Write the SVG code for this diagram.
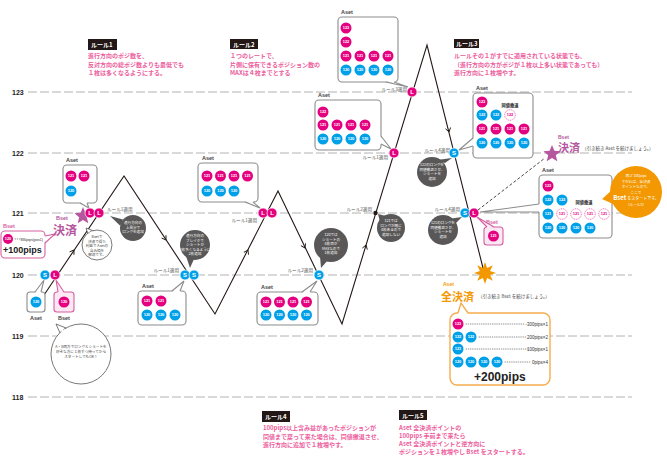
<svg xmlns="http://www.w3.org/2000/svg" width="667" height="457" viewBox="0 0 667 457">
<defs>
<style>
.pl{stroke:#a0a0a0;stroke-width:.8;stroke-dasharray:9 3;fill:none}
.lv{font:bold 7px 'Liberation Sans',sans-serif;fill:#222}
.rt{font:bold 6px 'Noto Sans CJK JP',sans-serif;fill:#ec5c9c}
.rb{fill:#231815}
.rbt{font:bold 6px 'Noto Sans CJK JP',sans-serif;fill:#fff}
.bx{fill:#fff;stroke:#8c8c8c;stroke-width:1.1}
.pbx{fill:#fce8f2;stroke:#d65fa0;stroke-width:1.1}
.pwb{fill:#fff;stroke:#d65fa0;stroke-width:1.1}
.obx{fill:#fff;stroke:#f6ad4f;stroke-width:1.4}
.tf{fill:#fff;stroke:none}
.ptf{fill:#fce8f2;stroke:none}
.ts{fill:none;stroke:#8c8c8c;stroke-width:1.1}
.pts{fill:none;stroke:#d65fa0;stroke-width:1.1}
.ots{fill:none;stroke:#f6ad4f;stroke-width:1.4}
.p{fill:#e4007f}
.b{fill:#00a0e9}
.dp{fill:#fff;stroke:#e4007f;stroke-width:.6;stroke-dasharray:1 .8}
.ct{font:bold 4px 'Liberation Sans',sans-serif;fill:#fff;text-anchor:middle}
.dct{font:bold 4px 'Liberation Sans',sans-serif;fill:#e4007f;text-anchor:middle}
.as{font:bold 5.5px 'Liberation Sans',sans-serif;fill:#444}
.bs{font:bold 5.5px 'Liberation Sans',sans-serif;fill:#d65fa0}
.mk{stroke:#fff;stroke-width:.7}
.mt{font:bold 6px 'Liberation Sans',sans-serif;fill:#fff;text-anchor:middle}
.ra{font:4.6px 'Noto Sans CJK JP',sans-serif;fill:#555}
.dk{fill:#595757}
.dt{font:3.6px 'Noto Sans CJK JP',sans-serif;fill:#fff;text-anchor:middle}
.wt{font:3.6px 'Noto Sans CJK JP',sans-serif;fill:#444;text-anchor:middle}
.zz{fill:none;stroke:#231815;stroke-width:1.1}
.ch{fill:none;stroke:#231815;stroke-width:.9}
.tt{font:bold 4.2px 'Noto Sans CJK JP',sans-serif;fill:#222;text-anchor:middle}
.sm{font:4.5px 'Noto Sans CJK JP',sans-serif;fill:#444}
.od{fill:none;stroke:#666;stroke-width:.7;stroke-dasharray:.6 1.6;stroke-linecap:round}
.ot{font:4.5px 'Liberation Sans',sans-serif;fill:#333;text-anchor:end}
</style>
<path id="chev" d="M-4,-2.6 L0,0 L-4,2.6"/>
<path id="star5" d="M0,-9 L2.35,-3.24 L8.56,-2.78 L3.8,1.24 L5.29,7.28 L0,4 L-5.29,7.28 L-3.8,1.24 L-8.56,-2.78 L-2.35,-3.24Z"/>
</defs>
<rect width="667" height="457" fill="#fff"/>

<g id="levels">
<line class="pl" x1="28" y1="92" x2="632" y2="92"/>
<line class="pl" x1="28" y1="153" x2="632" y2="153"/>
<line class="pl" x1="28" y1="213" x2="632" y2="213"/>
<line class="pl" x1="28" y1="275" x2="632" y2="275"/>
<line class="pl" x1="28" y1="336" x2="632" y2="336"/>
<line class="pl" x1="28" y1="397" x2="632" y2="397"/>
<text class="lv" x="12" y="94.5">123</text>
<text class="lv" x="12" y="155.5">122</text>
<text class="lv" x="12" y="215.5">121</text>
<text class="lv" x="12" y="277.5">120</text>
<text class="lv" x="12" y="338.5">119</text>
<text class="lv" x="12" y="399.5">118</text>
</g>

<g id="rule1">
<rect class="rb" x="88" y="39" width="29" height="11"/>
<text class="rbt" x="91" y="47">ルール1</text>
<text class="rt" x="88" y="58">進行方向のポジ数を、</text>
<text class="rt" x="88" y="66.5">反対方向の総ポジ数よりも最低でも</text>
<text class="rt" x="88" y="75">１枚は多くなるようにする。</text>
</g>
<g id="rule2">
<rect class="rb" x="230" y="39" width="28" height="10"/>
<text class="rbt" x="233" y="46.5">ルール2</text>
<text class="rt" x="230" y="58">１つのレートで、</text>
<text class="rt" x="230" y="66.5">片側に保有できるポジション数の</text>
<text class="rt" x="230" y="75">MAXは４枚までとする</text>
</g>
<g id="rule3">
<rect class="rb" x="454" y="39" width="25" height="9"/>
<text class="rbt" x="456" y="46">ルール3</text>
<text class="rt" x="454" y="58">ルールその１がすでに適用されている状態でも、</text>
<text class="rt" x="454" y="66.5">（進行方向の方がポジが１枚以上多い状態であっても）</text>
<text class="rt" x="454" y="75">進行方向に１枚増やす。</text>
</g>
<g id="rule4">
<rect class="rb" x="262" y="411" width="28" height="11"/>
<text class="rbt" x="265" y="418.5">ルール4</text>
<text class="rt" x="263" y="430">100pips以上含み益があったポジションが</text>
<text class="rt" x="263" y="438.5">同値まで戻って来た場合は、同値撤退させ、</text>
<text class="rt" x="263" y="447">進行方向に追加で１枚増やす。</text>
</g>
<g id="rule5">
<rect class="rb" x="399" y="410" width="28" height="10"/>
<text class="rbt" x="402" y="417.5">ルール5</text>
<text class="rt" x="399" y="430">Aset 全決済ポイントの</text>
<text class="rt" x="399" y="438">100pips 手前まで来たら</text>
<text class="rt" x="399" y="446">Aset 全決済ポイントと逆方向に</text>
<text class="rt" x="399" y="454">ポジションを１枚増やし Bset をスタートする。</text>
</g>

<g id="connectors">
<polyline class="zz" points="42,298 124,176 215,314 278,191 342,324 427,45 484,272"/>
<use href="#chev" class="ch" transform="translate(74,250) rotate(-56)"/>
<use href="#chev" class="ch" transform="translate(166,240) rotate(56.6)"/>
<use href="#chev" class="ch" transform="translate(248,250) rotate(-63)"/>
<use href="#chev" class="ch" transform="translate(305,248) rotate(64.3)"/>
<use href="#chev" class="ch" transform="translate(366,245) rotate(-73)"/>
<use href="#chev" class="ch" transform="translate(449,132) rotate(76)"/>
<line x1="478" y1="210" x2="545" y2="158" stroke="#333" stroke-width=".9" stroke-dasharray="3 2"/>
</g>

<g id="rule-applied">
<text class="ra" x="107" y="211">ルール1適用</text>
<text class="ra" x="179" y="272" text-anchor="end">ルール1適用</text>
<text class="ra" x="257" y="222" text-anchor="end">ルール1適用</text>
<text class="ra" x="313" y="272" text-anchor="end">ルール2適用</text>
<text class="ra" x="372" y="211" text-anchor="end">ルール2適用</text>
<text class="ra" x="388" y="159" text-anchor="end">ルール1適用</text>
<text class="ra" x="407" y="91" text-anchor="end">ルール3適用</text>
<text class="ra" x="450" y="152" text-anchor="end">ルール4適用</text>
<text class="ra" x="460" y="211" text-anchor="end">ルール4適用</text>
</g>

<g id="box-start-aset">
<rect class="bx" x="27" y="292" width="18" height="20" rx="3"/>
<polygon class="tf" points="35,293 41,293 44,280"/>
<polyline class="ts" points="35,292 44,280 41,292"/>
<circle class="b" cx="36" cy="302" r="5.5"/><text class="ct" x="36" y="303.4">120</text>
<text class="as" x="30" y="320">Aset</text>
</g>
<g id="box-start-bset">
<rect class="pbx" x="54" y="292" width="20" height="20" rx="3"/>
<polygon class="ptf" points="58,293 64,293 56,280"/>
<polyline class="pts" points="58,292 56,280 64,292"/>
<circle class="p" cx="64" cy="302" r="5.5"/><text class="ct" x="64" y="303.4">120</text>
<text class="as" x="58" y="320">Bset</text>
</g>

<g id="box-bset-100">
<text class="bs" x="3" y="228">Bset</text>
<rect class="pwb" x="1" y="231" width="44" height="27" rx="4"/>
<polygon class="tf" points="44,236 44,243 55,234"/>
<polyline class="pts" points="45,236 55,234 45,243"/>
<circle class="p" cx="8" cy="239" r="5"/><text class="ct" x="8" y="240.4">120</text>
<line class="od" x1="15" y1="239" x2="24" y2="239"/>
<text x="43" y="240.5" font-family="Liberation Sans" font-size="3.6" fill="#333" text-anchor="end">100pips(pos1)</text>
<text x="3" y="253" font-family="Liberation Sans" font-weight="bold" font-size="9" fill="#222">+100pips</text>
</g>

<g id="bset-kessai-left">
<use href="#star5" fill="#b5579e" transform="translate(83,216)"/>
<text x="56" y="220" font-family="Liberation Sans" font-weight="bold" font-size="5.5" fill="#b5579e">Bset</text>
<text x="53" y="235" font-family="'Noto Sans CJK JP',sans-serif" font-weight="bold" font-size="12" fill="#b5579e">決済</text>
</g>

<g id="box-a">
<text class="as" x="66" y="162">Aset</text>
<rect class="bx" x="63" y="165" width="34" height="38" rx="4"/>
<polygon class="tf" points="80,202 87,202 89,208"/>
<polyline class="ts" points="80,203 89,208 87,203"/>
<circle class="p" cx="71" cy="176" r="5.5"/><text class="ct" x="71" y="177.4">121</text>
<circle class="p" cx="84" cy="176" r="5.5"/><text class="ct" x="84" y="177.4">121</text>
<circle class="b" cx="71" cy="191" r="5.5"/><text class="ct" x="71" y="192.4">120</text>
</g>

<g id="box-b">
<text class="as" x="202" y="160">Aset</text>
<rect class="bx" x="198" y="163" width="60" height="39" rx="4"/>
<polygon class="tf" points="245,201 253,201 260,208"/>
<polyline class="ts" points="245,202 260,208 253,202"/>
<circle class="p" cx="207" cy="176" r="5.5"/><text class="ct" x="207" y="177.4">121</text>
<circle class="p" cx="220.5" cy="176" r="5.5"/><text class="ct" x="220.5" y="177.4">121</text>
<circle class="p" cx="234" cy="176" r="5.5"/><text class="ct" x="234" y="177.4">121</text>
<circle class="p" cx="247.5" cy="176" r="5.5"/><text class="ct" x="247.5" y="177.4">121</text>
<circle class="b" cx="207" cy="191" r="5.5"/><text class="ct" x="207" y="192.4">120</text>
<circle class="b" cx="220.5" cy="191" r="5.5"/><text class="ct" x="220.5" y="192.4">120</text>
<circle class="b" cx="234" cy="191" r="5.5"/><text class="ct" x="234" y="192.4">120</text>
</g>

<g id="box-c">
<text class="as" x="142" y="288">Aset</text>
<rect class="bx" x="138" y="291" width="48" height="34" rx="4"/>
<polygon class="tf" points="172,292 180,292 184,281"/>
<polyline class="ts" points="172,291 184,281 180,291"/>
<circle class="p" cx="147" cy="301" r="5.5"/><text class="ct" x="147" y="302.4">121</text>
<circle class="p" cx="161" cy="301" r="5.5"/><text class="ct" x="161" y="302.4">121</text>
<circle class="b" cx="147" cy="315" r="5.5"/><text class="ct" x="147" y="316.4">120</text>
<circle class="b" cx="161" cy="315" r="5.5"/><text class="ct" x="161" y="316.4">120</text>
<circle class="b" cx="175" cy="315" r="5.5"/><text class="ct" x="175" y="316.4">120</text>
</g>

<g id="box-d">
<text class="as" x="261" y="289">Aset</text>
<rect class="bx" x="257" y="292" width="61" height="33" rx="4"/>
<polygon class="tf" points="302,293 310,293 317,281"/>
<polyline class="ts" points="302,292 317,281 310,292"/>
<circle class="p" cx="266" cy="302" r="5.5"/><text class="ct" x="266" y="303.4">121</text>
<circle class="p" cx="279.5" cy="302" r="5.5"/><text class="ct" x="279.5" y="303.4">121</text>
<circle class="p" cx="293" cy="302" r="5.5"/><text class="ct" x="293" y="303.4">121</text>
<circle class="p" cx="306.5" cy="302" r="5.5"/><text class="ct" x="306.5" y="303.4">121</text>
<circle class="b" cx="266" cy="315" r="5.5"/><text class="ct" x="266" y="316.4">120</text>
<circle class="b" cx="279.5" cy="315" r="5.5"/><text class="ct" x="279.5" y="316.4">120</text>
<circle class="b" cx="293" cy="315" r="5.5"/><text class="ct" x="293" y="316.4">120</text>
<circle class="b" cx="306.5" cy="315" r="5.5"/><text class="ct" x="306.5" y="316.4">120</text>
</g>

<g id="box-e">
<text class="as" x="318" y="97">Aset</text>
<rect class="bx" x="315" y="100" width="66" height="50" rx="4"/>
<polygon class="tf" points="380,136 380,144 391,149"/>
<polyline class="ts" points="381,136 391,149 381,144"/>
<circle class="p" cx="323" cy="112" r="5.5"/><text class="ct" x="323" y="113.4">122</text>
<circle class="p" cx="323" cy="125" r="5.5"/><text class="ct" x="323" y="126.4">121</text>
<circle class="p" cx="337" cy="125" r="5.5"/><text class="ct" x="337" y="126.4">121</text>
<circle class="p" cx="351" cy="125" r="5.5"/><text class="ct" x="351" y="126.4">121</text>
<circle class="p" cx="365" cy="125" r="5.5"/><text class="ct" x="365" y="126.4">121</text>
<circle class="b" cx="323" cy="139" r="5.5"/><text class="ct" x="323" y="140.4">120</text>
<circle class="b" cx="337" cy="139" r="5.5"/><text class="ct" x="337" y="140.4">120</text>
<circle class="b" cx="351" cy="139" r="5.5"/><text class="ct" x="351" y="140.4">120</text>
<circle class="b" cx="365" cy="139" r="5.5"/><text class="ct" x="365" y="140.4">120</text>
</g>

<g id="box-f">
<text class="as" x="341" y="14">Aset</text>
<rect class="bx" x="338" y="17" width="60" height="65" rx="4"/>
<polygon class="tf" points="386,81 394,81 408,87"/>
<polyline class="ts" points="386,82 408,87 394,82"/>
<circle class="p" cx="346" cy="28" r="5.5"/><text class="ct" x="346" y="29.4">123</text>
<circle class="p" cx="346" cy="42" r="5.5"/><text class="ct" x="346" y="43.4">122</text>
<circle class="p" cx="346" cy="56" r="5.5"/><text class="ct" x="346" y="57.4">121</text>
<circle class="p" cx="360" cy="56" r="5.5"/><text class="ct" x="360" y="57.4">121</text>
<circle class="p" cx="374" cy="56" r="5.5"/><text class="ct" x="374" y="57.4">121</text>
<circle class="p" cx="388" cy="56" r="5.5"/><text class="ct" x="388" y="57.4">121</text>
<circle class="b" cx="346" cy="70" r="5.5"/><text class="ct" x="346" y="71.4">120</text>
<circle class="b" cx="360" cy="70" r="5.5"/><text class="ct" x="360" y="71.4">120</text>
<circle class="b" cx="374" cy="70" r="5.5"/><text class="ct" x="374" y="71.4">120</text>
<circle class="b" cx="388" cy="70" r="5.5"/><text class="ct" x="388" y="71.4">120</text>
</g>

<g id="box-g">
<text class="as" x="476" y="90">Aset</text>
<rect class="bx" x="473" y="93" width="60" height="65" rx="4"/>
<polygon class="tf" points="474,138 474,146 459,150"/>
<polyline class="ts" points="473,138 459,150 473,146"/>
<circle class="p" cx="482" cy="102" r="5.5"/><text class="ct" x="482" y="103.4">123</text>
<text class="tt" x="510" y="107">同値撤退</text>
<circle class="b" cx="482" cy="115" r="5.5"/><text class="ct" x="482" y="116.4">122</text>
<circle class="b" cx="496" cy="115" r="5.5"/><text class="ct" x="496" y="116.4">122</text>
<circle class="dp" cx="510" cy="115" r="5.3"/><text class="dct" x="510" y="116.4">122</text>
<circle class="p" cx="482" cy="129" r="5.5"/><text class="ct" x="482" y="130.4">121</text>
<circle class="p" cx="496" cy="129" r="5.5"/><text class="ct" x="496" y="130.4">121</text>
<circle class="p" cx="510" cy="129" r="5.5"/><text class="ct" x="510" y="130.4">121</text>
<circle class="p" cx="524" cy="129" r="5.5"/><text class="ct" x="524" y="130.4">121</text>
<circle class="b" cx="482" cy="143" r="5.5"/><text class="ct" x="482" y="144.4">120</text>
<circle class="b" cx="496" cy="143" r="5.5"/><text class="ct" x="496" y="144.4">120</text>
<circle class="b" cx="510" cy="143" r="5.5"/><text class="ct" x="510" y="144.4">120</text>
<circle class="b" cx="524" cy="143" r="5.5"/><text class="ct" x="524" y="144.4">120</text>
</g>

<g id="box-h">
<text class="as" x="542" y="172">Aset</text>
<rect class="bx" x="539" y="175" width="73" height="63" rx="4"/>
<polygon class="tf" points="540,204 540,212 480,212"/>
<polyline class="ts" points="539,204 480,212 539,212"/>
<circle class="p" cx="548" cy="186" r="5.5"/><text class="ct" x="548" y="187.4">123</text>
<circle class="b" cx="548" cy="200" r="5.5"/><text class="ct" x="548" y="201.4">122</text>
<circle class="b" cx="562" cy="200" r="5.5"/><text class="ct" x="562" y="201.4">122</text>
<text class="tt" x="584" y="204">同値撤退</text>
<circle class="b" cx="548" cy="214" r="5.5"/><text class="ct" x="548" y="215.4">121</text>
<circle class="dp" cx="562" cy="214" r="5.3"/><text class="dct" x="562" y="215.4">121</text>
<circle class="dp" cx="576" cy="214" r="5.3"/><text class="dct" x="576" y="215.4">121</text>
<circle class="dp" cx="590" cy="214" r="5.3"/><text class="dct" x="590" y="215.4">121</text>
<circle class="dp" cx="604" cy="214" r="5.3"/><text class="dct" x="604" y="215.4">121</text>
<circle class="b" cx="548" cy="228" r="5.5"/><text class="ct" x="548" y="229.4">120</text>
<circle class="b" cx="562" cy="228" r="5.5"/><text class="ct" x="562" y="229.4">120</text>
<circle class="b" cx="576" cy="228" r="5.5"/><text class="ct" x="576" y="229.4">120</text>
<circle class="b" cx="590" cy="228" r="5.5"/><text class="ct" x="590" y="229.4">120</text>
</g>

<g id="box-bset-right">
<text class="bs" x="486" y="224">Bset</text>
<rect class="pbx" x="484" y="227" width="19" height="18" rx="3"/>
<polygon class="ptf" points="487,228 494,228 477,217"/>
<polyline class="pts" points="487,227 477,217 494,227"/>
<circle class="p" cx="493.5" cy="236" r="5.5"/><text class="ct" x="493.5" y="237.4">121</text>
</g>

<g id="bset-kessai-right">
<use href="#star5" fill="#b5579e" transform="translate(552,154)"/>
<text x="558" y="139" font-family="Liberation Sans" font-weight="bold" font-size="5" fill="#b5579e">Bset</text>
<text x="558" y="152" font-family="'Noto Sans CJK JP',sans-serif" font-weight="bold" font-size="11" fill="#b5579e">決済</text>
<text class="sm" x="582" y="150">（引き続き Aset を続けましょう。）</text>
</g>

<g id="aset-zenkessai">
<path fill="#f39800" transform="translate(485,273)" d="M0,-11 L2.1,-5.08 L7.78,-7.78 L5.08,-2.1 L11,0 L5.08,2.1 L7.78,7.78 L2.1,5.08 L0,11 L-2.1,5.08 L-7.78,7.78 L-5.08,2.1 L-11,0 L-5.08,-2.1 L-7.78,-7.78 L-2.1,-5.08Z"/>
<text x="443" y="286" font-family="Liberation Sans" font-weight="bold" font-size="5" fill="#f39800">Aset</text>
<text x="441" y="301" font-family="'Noto Sans CJK JP',sans-serif" font-weight="bold" font-size="11" fill="#f39800">全決済</text>
<text class="sm" x="478" y="298">（引き続き Bset を続けましょう。）</text>
</g>

<g id="box-total">
<rect class="obx" x="450" y="313" width="100" height="72" rx="7"/>
<polygon class="tf" points="458,314 468,314 461,303"/>
<polyline class="ots" points="458,313 461,303 468,313"/>
<circle class="p" cx="458" cy="324" r="5.5"/><text class="ct" x="458" y="325.4">123</text>
<line class="od" x1="466" y1="324" x2="524" y2="324"/>
<text class="ot" x="548" y="325.5">-300pips×1</text>
<circle class="b" cx="458" cy="337" r="5.5"/><text class="ct" x="458" y="338.4">122</text>
<circle class="b" cx="471" cy="337" r="5.5"/><text class="ct" x="471" y="338.4">122</text>
<line class="od" x1="479" y1="337" x2="526" y2="337"/>
<text class="ot" x="548" y="338.5">200pips×2</text>
<circle class="b" cx="458" cy="349" r="5.5"/><text class="ct" x="458" y="350.4">121</text>
<line class="od" x1="466" y1="349" x2="528" y2="349"/>
<text class="ot" x="548" y="350.5">100pips×1</text>
<circle class="b" cx="458" cy="362" r="5.5"/><text class="ct" x="458" y="363.4">120</text>
<circle class="b" cx="471" cy="362" r="5.5"/><text class="ct" x="471" y="363.4">120</text>
<circle class="b" cx="484" cy="362" r="5.5"/><text class="ct" x="484" y="363.4">120</text>
<circle class="b" cx="497" cy="362" r="5.5"/><text class="ct" x="497" y="363.4">120</text>
<line class="od" x1="505" y1="362" x2="531" y2="362"/>
<text class="ot" x="548" y="363.5">0pips×4</text>
<text x="474" y="381" font-family="Liberation Sans" font-weight="bold" font-size="12" fill="#222">+200pips</text>
</g>

<g id="note1">
<polygon class="dk" points="120.2,225.7 123,219.6 110,216"/>
<circle class="dk" cx="133" cy="228" r="13"/>
<text class="dt" x="133" y="224">進行方向の</text>
<text class="dt" x="133" y="228.5">上昇分で</text>
<text class="dt" x="133" y="233">ロングを追加</text>
</g>
<g id="note-white">
<polygon points="88,234 94,231 86,228" fill="#fff" stroke="#555" stroke-width=".8"/>
<circle cx="97" cy="245" r="15" fill="#fff" stroke="#555" stroke-width=".8"/>
<polygon points="88.5,234.5 93.5,231.5 90,232" fill="#fff"/>
<text class="wt" x="97" y="238">Bsetで</text>
<text class="wt" x="97" y="242.5">決済で得た</text>
<text class="wt" x="97" y="247">利益で Asetの</text>
<text class="wt" x="97" y="251.5">含み損を</text>
<text class="wt" x="97" y="256">解消です。</text>
</g>
<g id="note2">
<polygon class="dk" points="186,256 194,259 190,268"/>
<circle class="dk" cx="195" cy="245" r="15"/>
<text class="dt" x="195" y="237">進行方向の</text>
<text class="dt" x="195" y="241.5">ブレイクで</text>
<text class="dt" x="195" y="246">ショートが</text>
<text class="dt" x="195" y="250.5">1枚多くなるように</text>
<text class="dt" x="195" y="255">2枚追加</text>
</g>
<g id="note3">
<polygon class="dk" points="320,256 328,260 321,268"/>
<circle class="dk" cx="331" cy="245" r="17"/>
<text class="dt" x="331" y="236">120では</text>
<text class="dt" x="331" y="240.5">ショートの</text>
<text class="dt" x="331" y="245">4枚目が</text>
<text class="dt" x="331" y="249.5">MAXなので</text>
<text class="dt" x="331" y="254">1枚追加</text>
</g>
<g id="note4">
<polygon class="dk" points="380,222 386,216 378,214"/>
<circle class="dk" cx="391" cy="228" r="14"/>
<text class="dt" x="391" y="222">121では</text>
<text class="dt" x="391" y="226.5">ロングが既に</text>
<text class="dt" x="391" y="231">4枚あるので</text>
<text class="dt" x="391" y="235.5">追加しない</text>
</g>
<g id="note5">
<polygon class="dk" points="448,219 455,224 462,217"/>
<circle class="dk" cx="443" cy="230" r="15"/>
<text class="dt" x="443" y="224">121のロングを</text>
<text class="dt" x="443" y="228.5">同値撤退させ、</text>
<text class="dt" x="443" y="233">ショートを</text>
<text class="dt" x="443" y="237.5">追加</text>
</g>
<g id="note6">
<polygon class="dk" points="437,160 445,163 452,158"/>
<circle class="dk" cx="432" cy="172" r="15"/>
<text class="dt" x="432" y="166">122のロングを</text>
<text class="dt" x="432" y="170.5">同値撤退させ、</text>
<text class="dt" x="432" y="175">ショートを</text>
<text class="dt" x="432" y="179.5">追加</text>
</g>
<g id="note-orange">
<polygon fill="#f39800" points="612,190 613,204 602,199"/>
<circle fill="#f39800" cx="636" cy="192" r="26"/>
<text class="dt" x="636" y="177">再び 100pips</text>
<text class="dt" x="636" y="182.5">下がれば、全決済</text>
<text class="dt" x="636" y="188">ポイントなので、</text>
<text class="dt" x="636" y="193.5">ここで</text>
<text x="636" y="200" font-family="'Noto Sans CJK JP',sans-serif" font-size="4" fill="#fff" text-anchor="middle"><tspan font-weight="bold" font-size="6">Bset</tspan> をスタートです。</text>
<text class="dt" x="636" y="206">（ルール5）</text>
</g>
<g id="note-bottom">
<polygon points="60,333 66,328 56,324" fill="#fff" stroke="#555" stroke-width=".8"/>
<circle cx="81" cy="354" r="30" fill="#fff" stroke="#555" stroke-width=".8"/>
<polygon points="60.6,333.6 65.5,329 62,330" fill="#fff"/>
<text class="wt" x="81" y="348">A・B両方でロングとショートを</text>
<text class="wt" x="81" y="353">好きな方に１枚ずつ持ってから</text>
<text class="wt" x="81" y="358">スタートしてもOK！</text>
</g>

<g id="markers">
<circle class="b mk" cx="45" cy="275" r="5"/><text class="mt" x="45" y="277.2">S</text>
<circle class="p mk" cx="55" cy="275" r="5"/><text class="mt" x="55" y="277.2">L</text>
<circle class="p mk" cx="90" cy="213" r="5"/><text class="mt" x="90" y="215.2">L</text>
<circle class="p mk" cx="99" cy="213" r="5"/><text class="mt" x="99" y="215.2">L</text>
<circle class="b mk" cx="185" cy="275" r="5"/><text class="mt" x="185" y="277.2">S</text>
<circle class="b mk" cx="194" cy="275" r="5"/><text class="mt" x="194" y="277.2">S</text>
<circle class="p mk" cx="263" cy="213" r="5"/><text class="mt" x="263" y="215.2">L</text>
<circle class="p mk" cx="272" cy="213" r="5"/><text class="mt" x="272" y="215.2">L</text>
<circle class="b mk" cx="319" cy="275" r="5"/><text class="mt" x="319" y="277.2">S</text>
<circle cx="375.5" cy="213" r="2.2" fill="#231815"/>
<circle class="p mk" cx="394" cy="153" r="5"/><text class="mt" x="394" y="155.2">L</text>
<circle class="p mk" cx="412" cy="92" r="5"/><text class="mt" x="412" y="94.2">L</text>
<circle class="b mk" cx="454" cy="153" r="5"/><text class="mt" x="454" y="155.2">S</text>
<circle class="b mk" cx="465" cy="213" r="5"/><text class="mt" x="465" y="215.2">S</text>
<circle class="p mk" cx="474" cy="213" r="5"/><text class="mt" x="474" y="215.2">L</text>
</g>
</svg>
